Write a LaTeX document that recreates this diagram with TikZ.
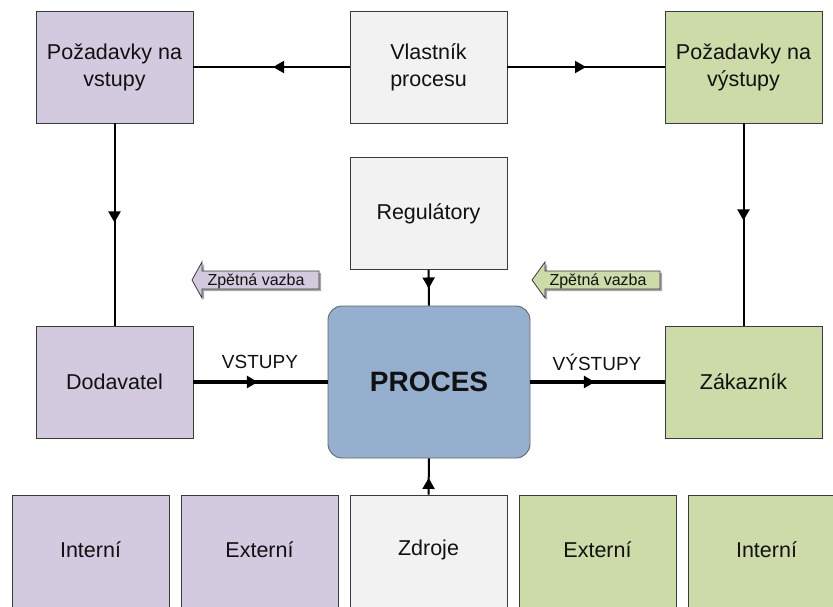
\documentclass[tikz,border=0pt]{standalone}
\usepackage{fontspec}
\setmainfont{Liberation Sans}
\usetikzlibrary{arrows.meta,decorations.markings}

\definecolor{lav}{HTML}{D3CADF}
\definecolor{grn}{HTML}{CDDBA9}
\definecolor{lgray}{HTML}{F2F2F2}
\definecolor{procblue}{HTML}{95AFCF}
\definecolor{edge}{HTML}{3A3A3A}
\definecolor{txt}{HTML}{111111}

\tikzset{
  box/.style={draw=edge, line width=0.9pt, minimum width=157pt, minimum height=112pt,
    inner sep=0pt, align=center, text=txt, font=\fontsize{21.5}{27}\selectfont},
  lbox/.style={box, fill=lav},
  gbox/.style={box, fill=grn},
  wbox/.style={box, fill=lgray},
  link/.style={line width=2pt, draw=black},
  flow/.style={line width=3.4pt, draw=black},
  midtip/.style={postaction={decorate}, decoration={markings,
    mark=at position #1 with {\arrow{Triangle[length=11pt,width=12pt]}}}},
  flowlabel/.style={font=\fontsize{19}{22}\selectfont, text=txt, inner sep=0pt},
  fbtext/.style={font=\fontsize{16}{19}\selectfont, text=txt, inner sep=0pt},
  fbarrow/.style={draw=edge, line width=0.8pt},
}

\begin{document}
\begin{tikzpicture}[x=1pt, y=-1pt]
  \useasboundingbox (0,0) rectangle (833,606);
  \clip (0,0) rectangle (833,606);

  % top row
  \node[lbox] (pv) at (114.5,67) {Požadavky na\\vstupy};
  \node[wbox] (vl) at (428.5,67) {Vlastník\\procesu};
  \node[gbox] (pz) at (743.5,67) {Požadavky na\\výstupy};

  % middle row
  \node[wbox] (reg) at (428.5,213.5) {Regulátory};
  \node[lbox] (dod) at (114.5,382) {Dodavatel};
  \node[gbox] (zak) at (743.5,382) {Zákazník};
  \node[draw=gray!80!black, line width=0.9pt, fill=procblue, rounded corners=14pt,
        minimum width=202pt, minimum height=152pt, inner sep=0pt, text=txt,
        font=\fontsize{28}{32}\selectfont\bfseries] (proc) at (429,382) {PROCES};

  % bottom row (runs past the lower edge)
  \node[lbox, minimum height=118pt] (li) at (90.5,554) {};
  \node[lbox, minimum height=118pt] (le) at (259.5,554) {};
  \node[wbox, minimum height=118pt] (zd) at (428.5,554) {};
  \node[gbox, minimum height=118pt] (re) at (597.5,554) {};
  \node[gbox, minimum height=118pt] (ri) at (766.5,554) {};
  \begin{scope}[every node/.style={text=txt, font=\fontsize{21.5}{27}\selectfont}]
    \node (tli) at (90.5,550) {Interní};
    \node (tle) at (259.5,550) {Externí};
    \node (tzd) at (428.5,550) {Zdroje};
    \node (tre) at (597.5,550) {Externí};
    \node (tri) at (766.5,550) {Interní};
  \end{scope}

  % connectors
  \draw[link, midtip=0.49] (vl.west) -- (pv.east);
  \draw[link, midtip=0.50] (vl.east) -- (pz.west);
  \draw[link, midtip=0.49] (pv.south) -- (dod.north);
  \draw[link, midtip=0.48] (pz.south) -- (zak.north);
  \draw[link, midtip=0.52] (reg.south) -- (proc.north);
  \draw[link, midtip=0.46] (zd.north) -- (proc.south);
  \draw[flow, midtip=0.48] (dod.east) -- (proc.west);
  \draw[flow, midtip=0.48] (proc.east) -- (zak.west);

  \node[flowlabel] (lin) at (260,362) {VSTUPY};
  \node[flowlabel] (lout) at (597,362) {VÝSTUPY};

  % feedback arrows
  \fill[gray!70] (194,282) -- (204,264) -- (204,273) -- (321,273) -- (321,291)
    -- (204,291) -- (204,300) -- cycle;
  \filldraw[fbarrow, fill=lav] (192,280) -- (202,262) -- (202,271) -- (319,271)
    -- (319,289) -- (202,289) -- (202,298) -- cycle;
  \node[fbtext] (fb1) at (256,281) {Zpětná vazba};

  \fill[gray!70] (534,282) -- (547,264) -- (547,273) -- (662,273) -- (662,291)
    -- (547,291) -- (547,300) -- cycle;
  \filldraw[fbarrow, fill=grn] (532,280) -- (545,262) -- (545,271) -- (660,271)
    -- (660,289) -- (545,289) -- (545,298) -- cycle;
  \node[fbtext] (fb2) at (598,281) {Zpětná vazba};
\end{tikzpicture}
\end{document}
